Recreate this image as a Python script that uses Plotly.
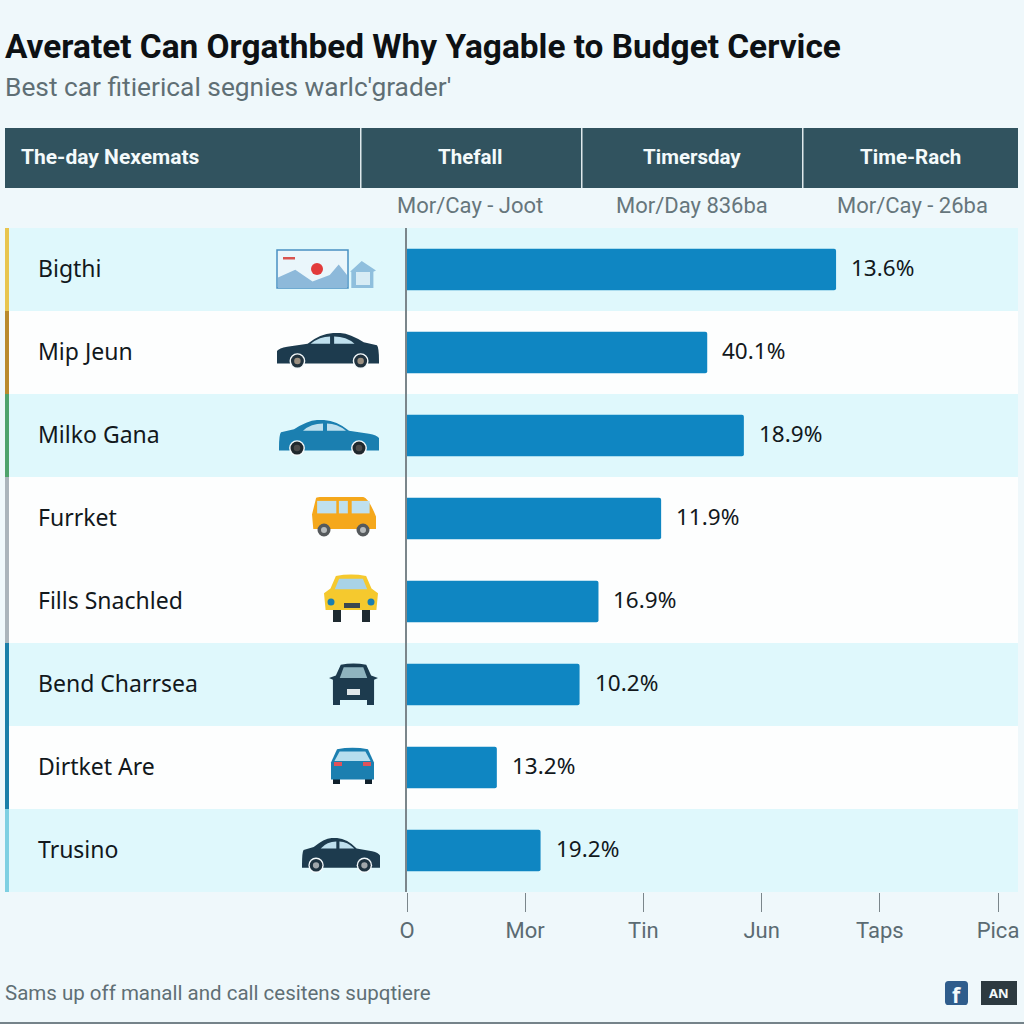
import re
import plotly.graph_objects as go

# ---- data ----
categories = ["Bigthi", "Mip Jeun", "Milko Gana", "Furrket", "Fills Snachled", "Bend Charrsea", "Dirtket Are", "Trusino"]
bar_values = [3.63, 2.54, 2.85, 2.15, 1.62, 1.46, 0.76, 1.13]
bar_labels = ["13.6%", "40.1%", "18.9%", "11.9%", "16.9%", "10.2%", "13.2%", "19.2%"]
accent_colors = ["#e8c54f", "#b98a2c", "#4fa36c", "#aab4bb", "#aab4bb", "#1b7fa9", "#1b7fa9", "#7fd0e2"]
tick_positions = [0, 1, 2, 3, 4, 5]
tick_labels = ["O", "Mor", "Tin", "Jun", "Taps", "Pica"]
title_text = "Averatet Can Orgathbed Why Yagable to Budget Cervice"
subtitle_text = "Best car fitierical segnies warlc'grader'"
footer_text = "Sams up off manall and call cesitens supqtiere"
header_labels = ["The-day Nexemats", "Thefall", "Timersday", "Time-Rach"]
sub_labels = ["Mor/Cay - Joot", "Mor/Day 836ba", "Mor/Cay - 26ba"]

W = 1024
FONT = "Noto Sans"
NARROW = "Roboto"
BG = "#eff8fb"
NAVY = "#1d3b4e"
BLUE = "#1b7fb0"
GLASS = "#bfe0ee"


def px(x):
    return x / W


def py(y):
    return 1 - y / W


shapes = []
annotations = []


def rect(x0, y0, x1, y1, fill, layer="below", line=None, lw=0):
    shapes.append(dict(type="rect", xref="paper", yref="paper", layer=layer,
                       x0=px(x0), x1=px(x1), y0=py(y0), y1=py(y1), fillcolor=fill,
                       line=dict(color=line or fill, width=lw)))


def circle(cx, cy, r, fill):
    shapes.append(dict(type="circle", xref="paper", yref="paper", layer="above",
                       x0=px(cx - r), x1=px(cx + r), y0=py(cy - r), y1=py(cy + r),
                       fillcolor=fill, line=dict(width=0)))


def path(box, d, fill, flip=False):
    """d is written in 0..1 units of the icon box."""
    x0, y0, x1, y1 = box
    nums = iter(range(10 ** 6))

    def conv(m):
        v = float(m.group(0))
        if next(nums) % 2 == 0:
            if flip:
                v = 1 - v
            return f"{px(x0 + v * (x1 - x0)):.5f}"
        return f"{py(y0 + v * (y1 - y0)):.5f}"

    shapes.append(dict(type="path", xref="paper", yref="paper", layer="above",
                       path=re.sub(r"-?\d*\.?\d+", conv, d), fillcolor=fill, line=dict(width=0)))


def text(x, y, s, size, color, anchor="left", bold=False, family=FONT):
    # placed on a hidden full-page pixel axis pair: paper-anchored text would push the margins
    annotations.append(dict(xref="x2", yref="y2", x=x, y=y, text=f"<b>{s}</b>" if bold else s,
                            showarrow=False, xanchor=anchor, yanchor="middle", borderpad=0, borderwidth=0,
                            font=dict(family=family, size=size, color=color)))


def sedan(box, body, wheel, rim, flip=False):
    x0, y0, x1, y1 = box
    path(box, "M0 .72 L0 .5 Q.02 .42 .1 .38 L.3 .3 Q.42 .02 .55 0 L.62 0 Q.72 .02 .85 .26 L.98 .34 Q1 .4 1 .78 L1 .85 L0 .85 Z", body, flip)
    path(box, "M.33 .3 Q.42 .1 .52 .1 L.52 .3 Z", GLASS, flip)
    path(box, "M.56 .1 Q.68 .1 .76 .3 L.56 .3 Z", GLASS, flip)
    w, h = x1 - x0, y1 - y0
    for f in (.2, .82):
        f2 = 1 - f if flip else f
        circle(x0 + f2 * w, y0 + .78 * h, .22 * h, "#f4fafc")
        circle(x0 + f2 * w, y0 + .78 * h, .18 * h, wheel)
        circle(x0 + f2 * w, y0 + .78 * h, .09 * h, rim)


# ---- page furniture ----
rect(0, 1022, W, 1024, "#75838a")
rect(5, 128, 1018, 188, "#31535f")
for x in (360, 581, 802):
    rect(x, 128, x + 1.5, 188, "#dfe9ec")
text(5, 46, title_text, 33.4, "#0d1114", bold=True, family=NARROW)
text(5, 87, subtitle_text, 26.3, "#5f6f75", family=NARROW)
text(21, 157, header_labels[0], 21, "#f4fafb", bold=True, family=NARROW)
for cx, s in zip((470, 692, 910), header_labels[1:]):
    text(cx, 157, s, 20.5, "#f4fafb", "center", bold=True, family=NARROW)
for cx, s in zip((470, 692, 912), sub_labels):
    text(cx, 205, s, 22, "#66767c", "center", family=NARROW)
text(5, 993, footer_text, 20.5, "#5f6f75", family=NARROW)

# ---- rows ----
ROW_TOP, ROW_H = 228, 83
for i, (name, col) in enumerate(zip(categories, accent_colors)):
    top = ROW_TOP + i * ROW_H
    rect(9, top, 1018, top + ROW_H, "#dff8fc" if i in (0, 2, 5, 7) else "#fdfefe")
    rect(5, top, 9, top + ROW_H, col)
    text(38, top + 40, name, 23, "#12181c")

# ---- icons ----
rect(277, 250, 348, 288, "#eaf6fb", "above", "#4a90c2", 1.5)
path((278, 262, 347, 288), "M0 1 L0 .6 L.25 .3 L.5 .75 L.75 .5 L.88 .1 L1 .5 L1 1 Z", "#8db9da")
circle(317, 269, 6, "#e23b3b")
rect(283, 257, 295, 259.5, "#d9534f", "above")
path((350, 261, 376, 288), "M0 .4 L.45 0 L1 .35 L.9 .4 L.9 1 L.05 1 L.05 .4 Z", "#8fbfdd")
path((356, 272, 370, 285), "M0 0 L1 0 L1 1 L0 1 Z", "#d7ecf5")
sedan((277, 333, 379, 369), NAVY, "#22333e", "#9b8f80")
sedan((279, 420, 379, 456), BLUE, "#20282d", "#4a4a4a", flip=True)
sedan((302, 838, 380, 873), NAVY, "#1f3340", "#a0a6aa", flip=True)

box = (312, 497, 376, 536)
path(box, "M.02 .82 L0 .45 L.06 .05 Q.06 0 .12 0 L.8 0 Q.88 .02 1 .5 L1 .82 Z", "#f5a81c")
for a, b in ((.08, .38), (.42, .56), (.62, .9)):
    path(box, f"M{a} .1 L{b} .1 L{b} .42 L{a} .42 Z", GLASS)
for cx in (324, 363):
    circle(cx, 530, 6.5, "#55595c")
    circle(cx, 530, 3, "#b7bbbd")

box = (324, 574, 378, 622)
rect(333, 608, 341, 622, "#1e2a30", "above")
rect(362, 608, 370, 622, "#1e2a30", "above")
path(box, "M.03 .75 L0 .4 L.12 .3 L.22 .04 Q.5 -.02 .78 .04 L.88 .3 L1 .4 L.97 .75 Z", "#f5c92e")
path(box, "M.2 .32 L.28 .1 L.72 .1 L.8 .32 Z", "#a9d3e6")
rect(344, 603, 360, 608, "#3a4650", "above")
circle(331, 602, 3.5, BLUE)
circle(371, 602, 3.5, BLUE)

box = (329, 663, 378, 705)
rect(333, 695, 340, 705, NAVY, "above")
rect(367, 695, 374, 705, NAVY, "above")
path(box, "M.08 .88 L.08 .4 L0 .36 L.14 .3 L.24 .04 Q.5 -.02 .76 .04 L.86 .3 L1 .36 L.92 .4 L.92 .88 Z", NAVY)
path(box, "M.22 .36 L.3 .1 L.7 .1 L.78 .36 Z", "#8fb4bf")
rect(347, 689, 360, 695, "#dfe7ea", "above")

box = (331, 747, 374, 784)
rect(333, 775, 340, 784, "#10202b", "above")
rect(365, 775, 372, 784, "#10202b", "above")
path(box, "M0 .88 L0 .42 L.14 .06 Q.5 -.02 .86 .06 L1 .42 L1 .88 Z", BLUE)
path(box, "M.08 .38 L.2 .12 L.8 .12 L.92 .38 Z", "#b7deee")
rect(334, 762, 342, 766, "#e0525a", "above")
rect(363, 762, 371, 766, "#e0525a", "above")

# ---- footer badges ----
path((945, 981, 968, 1005), "M.15 0 L.85 0 Q1 0 1 .15 L1 .85 Q1 1 .85 1 L.15 1 Q0 1 0 .85 L0 .15 Q0 0 .15 0 Z", "#2f5d8c")
text(957, 995, "f", 21, "#f4fafb", "center", bold=True)
rect(981, 981, 1017, 1005, "#2d3a40", "above")
text(999, 993, "AN", 13, "#f4fafb", "center", bold=True)

# ---- bars ----
fig = go.Figure(go.Bar(y=categories, x=bar_values, orientation="h", width=0.5,
                       marker=dict(color="#0f86c2", cornerradius=2, line=dict(width=0)), hoverinfo="skip"))
# empty trace that only brings the hidden pixel axes into being
fig.add_trace(go.Scatter(x=[None], y=[None], xaxis="x2", yaxis="y2", mode="none", hoverinfo="skip"))
for name, v, lab in zip(categories, bar_values, bar_labels):
    annotations.append(dict(xref="x", yref="y", x=v, y=name, text=lab, showarrow=False, xanchor="left",
                            xshift=13, yshift=2, font=dict(family=FONT, size=22.5, color="#12181c")))

fig.update_layout(
    width=W, height=W, margin=dict(l=0, r=0, t=0, b=0, autoexpand=False), paper_bgcolor=BG, plot_bgcolor="rgba(0,0,0,0)",
    showlegend=False, shapes=shapes, annotations=annotations,
    xaxis=dict(domain=[px(407), px(998)], range=[0, 5], tickvals=tick_positions, ticktext=tick_labels,
               showgrid=False, zeroline=False, showline=False, ticks="outside", ticklen=19, tickwidth=1,
               tickcolor="#7b868b", ticklabelstandoff=0,
               tickfont=dict(family=NARROW, size=22, color="#5b6b72")),
    yaxis=dict(domain=[py(892), py(228)], range=[7.5, -0.5], showticklabels=False, ticks="",
               showgrid=False, zeroline=False, showline=True, linecolor="#7b868b", linewidth=1.5),
    xaxis2=dict(domain=[0, 1], range=[0, W], visible=False, fixedrange=True),
    yaxis2=dict(domain=[0, 1], range=[W, 0], visible=False, fixedrange=True),
)
fig.write_html("out.html", config=dict(displayModeBar=False),
               post_script="document.body.style.margin='0';document.body.style.overflow='hidden';")
